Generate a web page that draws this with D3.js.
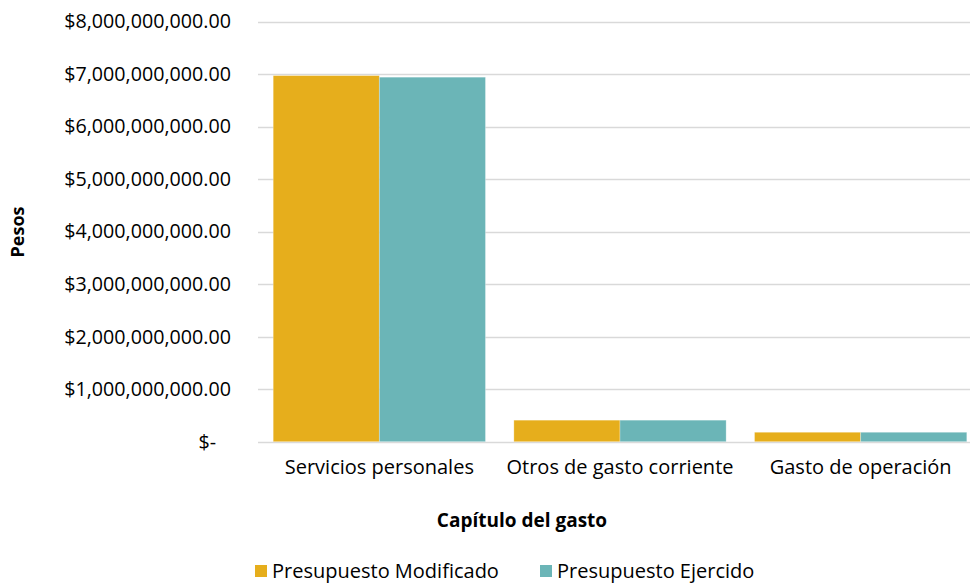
<!DOCTYPE html>
<html>
<head>
<meta charset="utf-8">
<script src="https://cdn.jsdelivr.net/npm/d3@7"></script>
<style>
  body { margin: 0; background: #fff; }
  text { font-family: "Open Sans", "Noto Sans", sans-serif; fill: #000; }
</style>
</head>
<body>
<svg width="970" height="584"></svg>
<script>
// datos
var categorias = ["Servicios personales", "Otros de gasto corriente", "Gasto de operación"];
var series = ["Presupuesto Modificado", "Presupuesto Ejercido"];
var modificado = [6970000000, 410000000, 180000000];
var ejercido = [6940000000, 410000000, 180000000];
var yTicks = [0, 1e9, 2e9, 3e9, 4e9, 5e9, 6e9, 7e9, 8e9];
var colores = ["#E6AE1C", "#6BB5B7"];

var svg = d3.select("svg");

var x0 = d3.scaleBand()
    .domain(categorias)
    .range([259, 981])
    .paddingInner(0.118)
    .paddingOuter(0.059);

var x1 = d3.scaleBand()
    .domain(series)
    .range([0, x0.bandwidth()]);

var y = d3.scaleLinear()
    .domain([0, 8e9])
    .range([441.7, 21.5]);

var fmt = function(d) {
    if (d === 0) return "$-";
    return "$" + d3.format(",.2f")(d);
};

// lineas de la cuadricula
svg.selectAll("line.grid")
    .data(yTicks)
    .enter()
    .append("line")
    .attr("class", "grid")
    .attr("x1", 258)
    .attr("x2", 970)
    .attr("y1", function(d) { return Math.round(y(d)) + 0.5; })
    .attr("y2", function(d) { return Math.round(y(d)) + 0.5; })
    .attr("stroke", "#d9d9d9")
    .attr("stroke-width", 1.3);

// etiquetas eje y
svg.selectAll("text.ytick")
    .data(yTicks)
    .enter()
    .append("text")
    .attr("class", "ytick")
    .attr("x", function(d) { return d === 0 ? 216 : 231; })
    .attr("y", function(d) { return y(d); })
    .attr("dy", "0.35em")
    .attr("text-anchor", "end")
    .attr("font-size", "19.7px")
    .text(fmt);

var datos = categorias.map(function(c, i) {
    return { cat: c, vals: [modificado[i], ejercido[i]] };
});

var grupos = svg.selectAll("g.grupo")
    .data(datos)
    .enter()
    .append("g")
    .attr("class", "grupo")
    .attr("transform", function(d) { return "translate(" + x0(d.cat) + ",0)"; });

grupos.selectAll("rect")
    .data(function(d) { return d.vals.map(function(v, j) { return { s: series[j], v: v, j: j }; }); })
    .enter()
    .append("rect")
    .attr("x", function(d) { return x1(d.s); })
    .attr("width", x1.bandwidth())
    .attr("y", function(d) { return y(d.v); })
    .attr("height", function(d) { return y(0) - y(d.v); })
    .attr("fill", function(d) { return colores[d.j]; })
    .attr("stroke", "#ffffff")
    .attr("stroke-opacity", 0.35)
    .attr("stroke-width", 0.8);

// etiquetas eje x
svg.selectAll("text.xtick")
    .data(categorias)
    .enter()
    .append("text")
    .attr("class", "xtick")
    .attr("x", function(d) { return x0(d) + x0.bandwidth() / 2; })
    .attr("y", 474)
    .attr("text-anchor", "middle")
    .attr("font-size", "20px")
    .text(function(d) { return d; });

// titulos
svg.append("text")
    .attr("x", 522)
    .attr("y", 527)
    .attr("text-anchor", "middle")
    .attr("font-size", "19px")
    .attr("font-weight", "bold")
    .text("Capítulo del gasto");

svg.append("text")
    .attr("transform", "translate(24,232) rotate(-90)")
    .attr("text-anchor", "middle")
    .attr("font-size", "18px")
    .attr("font-weight", "bold")
    .text("Pesos");

// leyenda
var leyX = [255, 540];
var ley = svg.selectAll("g.ley")
    .data(series)
    .enter()
    .append("g")
    .attr("class", "ley")
    .attr("transform", function(d, i) { return "translate(" + leyX[i] + ",565)"; });

ley.append("rect")
    .attr("width", 12)
    .attr("height", 12)
    .attr("fill", function(d, i) { return colores[i]; });

ley.append("text")
    .attr("x", 17)
    .attr("y", 13)
    .attr("font-size", "20px")
    .text(function(d) { return d; });
</script>
</body>
</html>
